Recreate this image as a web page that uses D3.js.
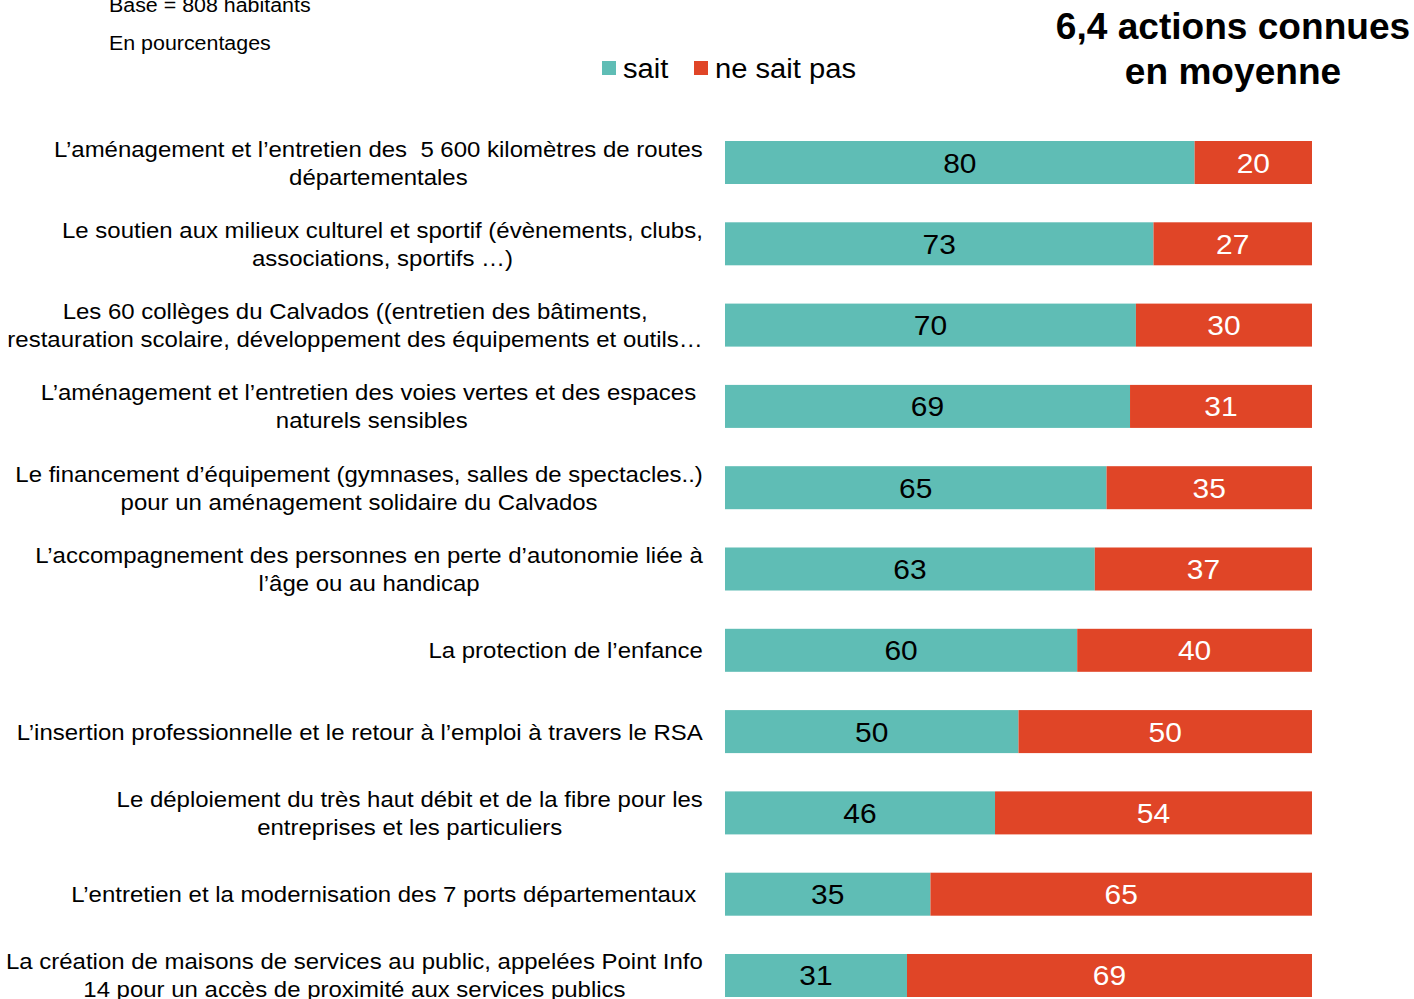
<!DOCTYPE html>
<html><head><meta charset="utf-8">
<script src="https://cdn.jsdelivr.net/npm/d3@7"></script>
<style>body{margin:0;background:#fff;}svg{display:block;font-family:"Liberation Sans",Arial,sans-serif;}text{white-space:pre;}</style>
</head><body>
<svg id="c" width="1414" height="999"></svg>
<script>
const categories = [
  ["L\u2019aménagement et l\u2019entretien des  5 600 kilomètres de routes","départementales"],
  ["Le soutien aux milieux culturel et sportif (évènements, clubs,","associations, sportifs \u2026)"],
  ["Les 60 collèges du Calvados ((entretien des bâtiments,","restauration scolaire, développement des équipements et outils\u2026"],
  ["L\u2019aménagement et l\u2019entretien des voies vertes et des espaces ","naturels sensibles"],
  ["Le financement d\u2019équipement (gymnases, salles de spectacles..)","pour un aménagement solidaire du Calvados"],
  ["L\u2019accompagnement des personnes en perte d\u2019autonomie liée à","l\u2019âge ou au handicap"],
  ["La protection de l\u2019enfance"],
  ["L\u2019insertion professionnelle et le retour à l\u2019emploi à travers le RSA"],
  ["Le déploiement du très haut débit et de la fibre pour les","entreprises et les particuliers"],
  ["L\u2019entretien et la modernisation des 7 ports départementaux "],
  ["La création de maisons de services au public, appelées Point Info","14 pour un accès de proximité aux services publics"]
];
const sait = [80,73,70,69,65,63,60,50,46,35,31];
const neSaitPas = [20,27,30,31,35,37,40,50,54,65,69];
const seriesNames = ["sait","ne sait pas"];
const colors = ["#5fbdb5","#e04527"];
const titleLines = ["6,4 actions connues","en moyenne"];
const notes = ["Base = 808 habitants","En pourcentages"];

const svg = d3.select("#c");
const x = d3.scaleLinear().domain([0,100]).range([725,1312]);
const y = d3.scaleBand().domain(d3.range(categories.length)).range([141,997]).paddingInner(0.471).paddingOuter(0);

// helper: horizontally stretched text
function stretch(sel, sx){
  sel.attr("transform", function(){
    const x0 = +this.getAttribute("data-x"), y0 = +this.getAttribute("data-y");
    return `translate(${x0},${y0}) scale(${sx},1)`;
  });
}

const rows = svg.selectAll("g.row").data(categories.map((c,i)=>({c,i,s:sait[i],n:neSaitPas[i]}))).join("g").attr("class","row");
rows.append("rect").attr("x",d=>x(0)).attr("width",d=>x(d.s)-x(0)).attr("y",d=>y(d.i)).attr("height",y.bandwidth()).attr("fill",colors[0]);
rows.append("rect").attr("x",d=>x(d.s)).attr("width",d=>x(d.s+d.n)-x(d.s)).attr("y",d=>y(d.i)).attr("height",y.bandwidth()).attr("fill",colors[1]);
const v1 = rows.append("text").attr("data-x",d=>(x(0)+x(d.s))/2).attr("data-y",d=>y(d.i)+y.bandwidth()/2+10).attr("text-anchor","middle").attr("font-size",28).attr("fill","#000").text(d=>d.s);
const v2 = rows.append("text").attr("data-x",d=>(x(d.s)+x(d.s+d.n))/2).attr("data-y",d=>y(d.i)+y.bandwidth()/2+10).attr("text-anchor","middle").attr("font-size",28).attr("fill","#fff").text(d=>d.n);
stretch(v1,1.07); stretch(v2,1.07);

// labels
const labelFs = 22, lineH = 28, rightEdge = 703, labelSx = 1.09;
rows.each(function(d){
  const g = d3.select(this).append("g");
  const cy = y(d.i)+y.bandwidth()/2;
  const n = d.c.length;
  const t = g.selectAll("text").data(d.c).join("text")
    .attr("font-size",labelFs).attr("fill","#000").attr("text-anchor","middle")
    .attr("data-y",(l,k)=>cy + 8 + (k-(n-1)/2)*lineH).text(l=>l);
  let maxW = 0; t.each(function(){maxW=Math.max(maxW,this.getComputedTextLength()*labelSx);});
  t.attr("data-x", rightEdge - maxW/2);
  stretch(t,labelSx);
});

// legend
const leg = svg.append("g");
const legX = [602,694];
seriesNames.forEach((s,i)=>{
  leg.append("rect").attr("x",legX[i]).attr("y",61).attr("width",14).attr("height",14).attr("fill",colors[i]);
  const t = leg.append("text").attr("data-x",legX[i]+21).attr("data-y",78).attr("font-size",27).attr("fill","#000").text(s);
  stretch(t,1.08);
});

// title
const tt = svg.selectAll("text.title").data(titleLines).join("text").attr("class","title")
  .attr("data-x",1233).attr("data-y",(d,i)=>39+i*45).attr("text-anchor","middle").attr("font-weight","bold").attr("font-size",36).attr("fill","#000").text(d=>d);
stretch(tt,1.03);
// notes
const nt = svg.selectAll("text.note").data(notes).join("text").attr("class","note")
  .attr("data-x",109).attr("data-y",(d,i)=>12+i*38).attr("font-size",20).attr("fill","#000").text(d=>d);
stretch(nt,1.07);
</script>
</body></html>
